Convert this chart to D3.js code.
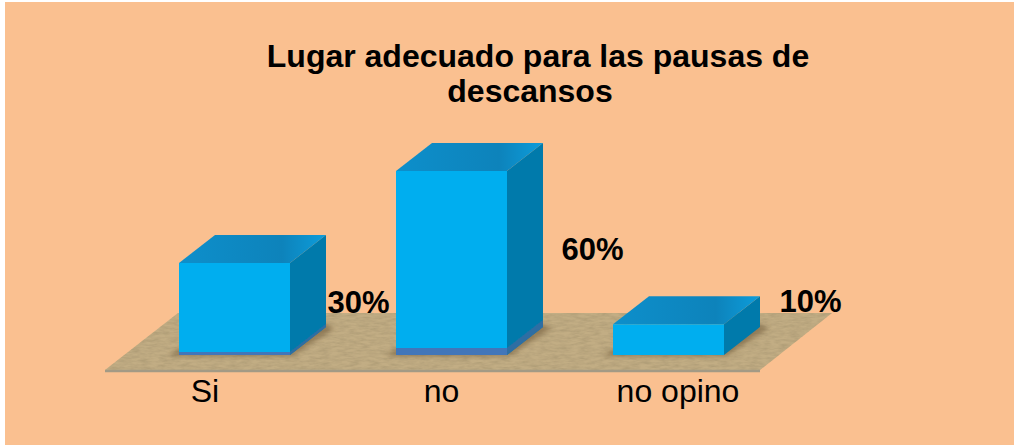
<!DOCTYPE html>
<html>
<head>
<meta charset="utf-8">
<script src="https://cdnjs.cloudflare.com/ajax/libs/d3/7.8.5/d3.min.js"></script>
<style>
  html, body { margin: 0; padding: 0; background: #fff; }
  svg { display: block; }
  text { font-family: "Liberation Sans", Arial, sans-serif; fill: #000; }
</style>
</head>
<body>
<svg id="chart" width="1014" height="445"></svg>
<script>
const categories = ['Si', 'no', 'no opino'];
const values = [30, 60, 10];
const valueLabels = ['30%', '60%', '10%'];
const titleLines = ['Lugar adecuado para las pausas de', 'descansos'];

const width = 1014,
  height = 445,
  depthX = 36,
  depthY = -28,
  baseY = 355,
  svg = d3.select('#chart');

const x = d3.scaleBand().domain(categories).range([179, 724]).paddingInner(0.4885).paddingOuter(0);
const y = d3.scaleLinear().domain([0, 60]).range([baseY, 171]);
const labelX = d3.scalePoint().domain(categories).range([205, 678]);

// hand placed data labels, they do not follow the bars in the original
const labelOffset = { 'Si': [124, 49.5], 'no': [141, 89], 'no opino': [142, -12.5] };

const defs = svg.append('defs');

const wood = defs.append('filter').attr('id', 'wood').attr('x', 0).attr('y', 0).attr('width', 1).attr('height', 1);
wood.append('feTurbulence')
  .attr('type', 'fractalNoise')
  .attr('baseFrequency', '0.1 0.4')
  .attr('numOctaves', 3)
  .attr('seed', 4)
  .attr('result', 'noise');
wood.append('feColorMatrix')
  .attr('in', 'noise')
  .attr('type', 'matrix')
  .attr('values', '0 0 0 0 0.42  0 0 0 0 0.33  0 0 0 0 0.18  1.6 0 0 0 -0.5')
  .attr('result', 'grain');
wood.append('feComposite').attr('in', 'grain').attr('in2', 'SourceGraphic').attr('operator', 'in').attr('result', 'clipped');
wood.append('feMerge').selectAll('feMergeNode')
  .data(['SourceGraphic', 'clipped'])
  .join('feMergeNode')
  .attr('in', d => d);

defs.append('filter').attr('id', 'soft').append('feGaussianBlur').attr('stdDeviation', 2.5);
defs.append('filter').attr('id', 'edge').append('feGaussianBlur').attr('stdDeviation', 0.6);

const topGrad = defs.append('linearGradient').attr('id', 'topGrad').attr('x1', 0).attr('x2', 1).attr('y1', 0).attr('y2', 0);
topGrad.append('stop').attr('offset', '0%').attr('stop-color', '#0c8fcb');
topGrad.append('stop').attr('offset', '70%').attr('stop-color', '#0a83bb');
topGrad.append('stop').attr('offset', '100%').attr('stop-color', '#0d9ddb');

svg.append('rect')
  .attr('x', 5).attr('y', 2)
  .attr('width', width - 5).attr('height', height - 2)
  .attr('fill', '#fac090');

// floor
const floor = [[105, 370], [760, 370], [832, 313], [178, 313]];
svg.append('path')
  .attr('d', d3.line()(floor) + 'Z')
  .attr('fill', '#c2ad84')
  .attr('filter', 'url(#wood)');
svg.append('line')
  .attr('x1', 105).attr('x2', 760).attr('y1', 371).attr('y2', 371)
  .attr('stroke', '#a39a85').attr('stroke-width', 2.5);

const bars = svg.append('g').selectAll('g')
  .data(categories.map((c, i) => ({ c, v: values[i], label: valueLabels[i] })))
  .join('g');

// shadow on the floor
bars.append('path')
  .attr('d', d => {
    const l = x(d.c), r = l + x.bandwidth();
    return d3.line()([[l - 10, baseY + 1], [r + 2, baseY + 1], [r + depthX + 9, baseY + depthY + 1], [r + depthX - 4, baseY + depthY - 4], [l, baseY - 6]]) + 'Z';
  })
  .attr('fill', '#6b5536')
  .attr('opacity', 0.55)
  .attr('filter', 'url(#soft)');

const solid = bars.append('g').attr('filter', 'url(#edge)');

// top face
solid.append('path')
  .attr('d', d => {
    const l = x(d.c), r = l + x.bandwidth(), t = y(d.v);
    return d3.line()([[l, t], [r, t], [r + depthX, t + depthY], [l + depthX, t + depthY]]) + 'Z';
  })
  .attr('fill', 'url(#topGrad)');

// side face
solid.append('path')
  .attr('d', d => {
    const r = x(d.c) + x.bandwidth(), t = y(d.v);
    return d3.line()([[r, t], [r + depthX, t + depthY], [r + depthX, baseY + depthY], [r, baseY]]) + 'Z';
  })
  .attr('fill', '#057aab');

// darker foot of the side, only on the tall bars
solid.filter(d => d.v >= 30).append('path')
  .attr('d', d => {
    const r = x(d.c) + x.bandwidth(), h = d.v >= 60 ? 7 : 3;
    return d3.line()([[r, baseY - h], [r + depthX, baseY + depthY - h], [r + depthX, baseY + depthY], [r, baseY]]) + 'Z';
  })
  .attr('fill', '#2f6ea3');

// front face
solid.append('rect')
  .attr('x', d => x(d.c))
  .attr('y', d => y(d.v))
  .attr('width', x.bandwidth())
  .attr('height', d => y(0) - y(d.v))
  .attr('fill', '#04aeef');

solid.filter(d => d.v >= 30).append('rect')
  .attr('x', d => x(d.c))
  .attr('y', d => baseY - (d.v >= 60 ? 7 : 3))
  .attr('width', x.bandwidth())
  .attr('height', d => (d.v >= 60 ? 7 : 3))
  .attr('fill', '#4276b9');

// data labels
bars.append('text')
  .attr('x', d => x(d.c) + x.bandwidth() / 2 + labelOffset[d.c][0])
  .attr('y', d => y(d.v) + labelOffset[d.c][1])
  .attr('text-anchor', 'middle')
  .attr('font-size', 31)
  .attr('font-weight', 'bold')
  .text(d => d.label);

// category labels
svg.append('g').selectAll('text')
  .data(categories)
  .join('text')
  .attr('x', d => labelX(d))
  .attr('y', 402)
  .attr('text-anchor', 'middle')
  .attr('font-size', 32)
  .text(d => d);

// title, second line sits a little left of centre in the original
svg.append('g').selectAll('text')
  .data(titleLines)
  .join('text')
  .attr('x', (d, i) => 538 - i * 8)
  .attr('y', (d, i) => 67 + i * 35)
  .attr('text-anchor', 'middle')
  .attr('font-size', 32)
  .attr('font-weight', 'bold')
  .text(d => d);
</script>
</body>
</html>
